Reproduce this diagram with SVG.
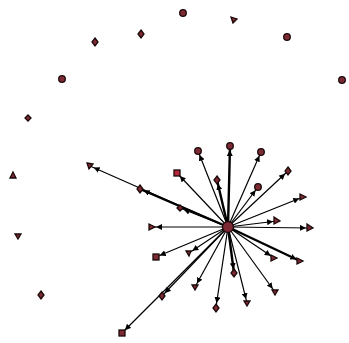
<svg xmlns="http://www.w3.org/2000/svg" width="349" height="343" viewBox="0 0 349 343">
<defs>
<marker id="arr" viewBox="0 0 6 6" refX="10" refY="3" markerWidth="6" markerHeight="6" markerUnits="userSpaceOnUse" orient="auto">
<path d="M0,0 L6,3 L0,6 z" fill="#000"/>
</marker>
</defs>
<style>
.e{stroke:#000;stroke-width:1.2;fill:none;marker-end:url(#arr)}
.t{stroke-width:2.4}
.n{fill:#7e2a34;stroke:#1a0808;stroke-width:1.3}
.s{fill:#b8283a;stroke:#1a0808;stroke-width:1.3}
</style>
<rect width="349" height="343" fill="#fff"/>
<g id="edges">
<line class="e" x1="228" y1="227" x2="198" y2="151"/>
<line class="e t" x1="228" y1="227" x2="230" y2="146"/>
<line class="e" x1="228" y1="227" x2="261" y2="152"/>
<line class="e" x1="228" y1="227" x2="288" y2="171"/>
<line class="e" x1="228" y1="227" x2="177" y2="173"/>
<line class="e t" x1="228" y1="227" x2="217" y2="180"/>
<line class="e" x1="228" y1="227" x2="258" y2="187"/>
<line class="e" x1="228" y1="227" x2="303" y2="197"/>
<line class="e" x1="228" y1="227" x2="277" y2="221"/>
<line class="e" x1="228" y1="227" x2="310" y2="228"/>
<line class="e" x1="228" y1="227" x2="274" y2="258"/>
<line class="e t" x1="228" y1="227" x2="300" y2="261"/>
<line class="e" x1="228" y1="227" x2="189" y2="253"/>
<line class="e t" x1="228" y1="227" x2="234" y2="273"/>
<line class="e" x1="228" y1="227" x2="195" y2="287"/>
<line class="e" x1="228" y1="227" x2="275" y2="292"/>
<line class="e" x1="228" y1="227" x2="247" y2="303"/>
<line class="e" x1="228" y1="227" x2="216" y2="307"/>
<line class="e" x1="228" y1="227" x2="152" y2="227"/>
<line class="e" x1="228" y1="227" x2="156" y2="257"/>
<line class="e" x1="228" y1="227" x2="90" y2="166"/>
<line class="e t" x1="228" y1="227" x2="140" y2="189"/>
<line class="e" x1="228" y1="227" x2="180" y2="208"/>
<line class="e" x1="228" y1="227" x2="122" y2="333"/>
<line class="e" x1="228" y1="227" x2="162" y2="296"/>
</g>
<g id="hub"><circle class="n" cx="228" cy="227" r="5.5"/></g>
<g id="n1"><circle class="n" cx="183" cy="13" r="3.3"/></g>
<g id="n2"><path class="n" d="M231,17 l6,2 l-4,4 z"/></g>
<g id="n3"><circle class="n" cx="287" cy="37" r="3.3"/></g>
<g id="n4"><path class="n" d="M141,30 l3,4 l-3,4 l-3,-4 z"/></g>
<g id="n5"><path class="n" d="M95,38 l3,4 l-3,4 l-3,-4 z"/></g>
<g id="n6"><circle class="n" cx="62" cy="79" r="3.3"/></g>
<g id="n7"><circle class="n" cx="342" cy="80" r="3.3"/></g>
<g id="n8"><path class="n" d="M28,115 l3,3 l-3,3 l-3,-3 z"/></g>
<g id="n9"><path class="n" d="M13,172 l3,6 l-6,0 z"/></g>
<g id="n10"><path class="n" d="M15,234 l6,0 l-3,5 z"/></g>
<g id="n11"><path class="n" d="M41,291 l3,4 l-3,4 l-3,-4 z"/></g>
<g id="c1"><circle class="n" cx="198" cy="151" r="3.3"/></g>
<g id="c2"><circle class="n" cx="230" cy="146" r="3.3"/></g>
<g id="c3"><circle class="n" cx="261" cy="152" r="3.3"/></g>
<g id="c4"><path class="n" d="M288,167 l3,4 l-3,4 l-3,-4 z"/></g>
<g id="c5"><rect class="s" x="174" y="170" width="6" height="6"/></g>
<g id="c6"><path class="n" d="M217,176 l3,4 l-3,4 l-3,-4 z"/></g>
<g id="c7"><circle class="n" cx="258" cy="187" r="3.3"/></g>
<g id="c8"><path class="n" d="M300,194 l6,3 l-6,3 z"/></g>
<g id="c9"><path class="n" d="M274,217 l6,4 l-6,3 z"/></g>
<g id="c10"><path class="n" d="M307,224 l6,4 l-6,3 z"/></g>
<g id="c11"><path class="n" d="M271,255 l6,3 l-6,3 z"/></g>
<g id="c12"><path class="n" d="M297,258 l6,3 l-6,3 z"/></g>
<g id="c13"><path class="n" d="M186,251 l5,0 l-2,5 z"/></g>
<g id="c14"><path class="n" d="M234,269 l3,4 l-3,4 l-3,-4 z"/></g>
<g id="c15"><path class="n" d="M192,285 l6,0 l-3,5 z"/></g>
<g id="c16"><path class="n" d="M272,290 l6,0 l-3,5 z"/></g>
<g id="c17"><path class="n" d="M244,301 l6,0 l-3,5 z"/></g>
<g id="c18"><path class="n" d="M216,304 l3,4 l-3,4 l-3,-4 z"/></g>
<g id="c19"><path class="n" d="M149,224 l6,3 l-6,3 z"/></g>
<g id="c20"><rect class="n" x="153" y="254" width="6" height="6"/></g>
<g id="c21"><path class="n" d="M87,163 l6,1 l-4,5 z"/></g>
<g id="c22"><path class="n" d="M140,185 l3,4 l-3,4 l-3,-4 z"/></g>
<g id="c23"><path class="n" d="M180,205 l3,3 l-3,3 l-3,-3 z"/></g>
<g id="c24"><rect class="n" x="119" y="330" width="6" height="6"/></g>
<g id="c25"><path class="n" d="M162,292 l3,4 l-3,4 l-3,-4 z"/></g>
</svg>
